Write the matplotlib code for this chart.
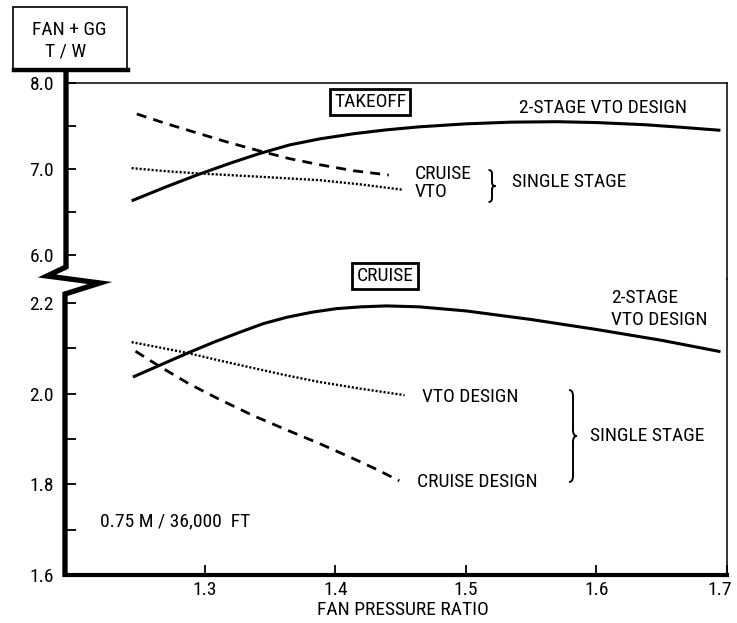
import matplotlib
matplotlib.use("Agg")
import matplotlib.pyplot as plt
from matplotlib import font_manager
from matplotlib.lines import Line2D
from matplotlib.patches import Rectangle, PathPatch
from matplotlib.path import Path
from matplotlib.ticker import MultipleLocator
from matplotlib.transforms import ScaledTranslation

# ---------------- data ----------------
x_ticks = [1.3, 1.4, 1.5, 1.6, 1.7]
x_tick_labels = ["1.3", "1.4", "1.5", "1.6", "1.7"]
top_yticks = [6.0, 7.0, 8.0]
top_ytick_labels = ["6.0", "7.0", "8.0"]
bot_yticks = [1.6, 1.8, 2.0, 2.2]
bot_ytick_labels = ["1.6", "1.8", "2.0", "2.2"]

# TAKEOFF
to_2stage_x = [1.244, 1.27, 1.294, 1.32, 1.342, 1.365, 1.388, 1.414, 1.439, 1.464, 1.50, 1.535,
               1.57, 1.60, 1.637, 1.665, 1.695]
to_2stage_y = [6.63, 6.79, 6.93, 7.07, 7.18, 7.28, 7.35, 7.41, 7.455, 7.49, 7.525, 7.545,
               7.55, 7.54, 7.515, 7.485, 7.45]
to_cruise_x = [1.248, 1.27, 1.294, 1.318, 1.342, 1.365, 1.388, 1.414, 1.441]
to_cruise_y = [7.64, 7.53, 7.42, 7.31, 7.21, 7.12, 7.05, 6.98, 6.93]
to_vto_x = [1.244, 1.27, 1.294, 1.342, 1.388, 1.42, 1.451]
to_vto_y = [7.01, 6.975, 6.95, 6.91, 6.87, 6.82, 6.76]

# CRUISE
cr_2stage_x = [1.245, 1.264, 1.287, 1.307, 1.327, 1.345, 1.363, 1.382, 1.401, 1.42, 1.439, 1.464,
               1.50, 1.55, 1.60, 1.65, 1.695]
cr_2stage_y = [2.037, 2.061, 2.090, 2.114, 2.136, 2.155, 2.169, 2.180, 2.188, 2.192, 2.194, 2.192,
               2.183, 2.164, 2.142, 2.118, 2.093]
cr_vto_x = [1.244, 1.264, 1.287, 1.312, 1.337, 1.362, 1.388, 1.42, 1.453]
cr_vto_y = [2.114, 2.103, 2.090, 2.073, 2.057, 2.041, 2.026, 2.011, 1.997]
cr_cruise_x = [1.247, 1.264, 1.288, 1.311, 1.337, 1.363, 1.388, 1.413, 1.431, 1.449]
cr_cruise_y = [2.094, 2.063, 2.022, 1.988, 1.952, 1.920, 1.890, 1.858, 1.834, 1.808]

# ---------------- fonts ----------------
avail = {f.name for f in font_manager.fontManager.ttflist}
FONT = "DejaVu Sans"
for cand in ["Liberation Sans Narrow", "DejaVu Sans Condensed", "Roboto Condensed", "Open Sans Condensed"]:
    if cand in avail:
        FONT = cand
        break
plt.rcParams["font.family"] = [FONT, "DejaVu Sans"]

W, H = 737, 623
fig = plt.figure(figsize=(W / 100, H / 100), dpi=100)


def fx(px):
    return px / W


def fy(py):
    return 1 - py / H


LEFT, RIGHT, TOP, SPLIT, BOTTOM = 65, 727, 83, 279, 575
ax_top = fig.add_axes([fx(LEFT), fy(SPLIT), fx(RIGHT) - fx(LEFT), fy(TOP) - fy(SPLIT)])
ax_bot = fig.add_axes([fx(LEFT), fy(BOTTOM), fx(RIGHT) - fx(LEFT), fy(SPLIT) - fy(BOTTOM)])

XMIN, XMAX = 1.193, 1.70
for ax in (ax_top, ax_bot):
    ax.set_xlim(XMIN, XMAX)
    ax.set_facecolor("none")
    ax.spines["right"].set_linewidth(1.1)
    ax.spines["left"].set_visible(False)
    ax.tick_params(axis="y", direction="in", length=8, width=1.3, pad=8, labelsize=14, which="both")
    ax.tick_params(axis="x", direction="in", length=7, width=1.3, pad=4, labelsize=14)

# top axes
ax_top.set_ylim(5.721, 8.0)
ax_top.spines["bottom"].set_visible(False)
ax_top.spines["top"].set_linewidth(1.1)
ax_top.set_yticks(top_yticks)
ax_top.set_yticklabels(top_ytick_labels)
ax_top.yaxis.set_minor_locator(MultipleLocator(0.5))
ax_top.set_xticks([])

# bottom axes
ax_bot.set_ylim(1.6, 2.2534)
ax_bot.spines["top"].set_visible(False)
ax_bot.spines["bottom"].set_linewidth(3.0)
ax_bot.set_yticks(bot_yticks)
ax_bot.set_yticklabels(bot_ytick_labels)
ax_bot.yaxis.set_minor_locator(MultipleLocator(0.1))
ax_bot.set_xticks(x_ticks)
ax_bot.set_xticklabels(x_tick_labels)
ax_bot.set_xlabel("FAN PRESSURE RATIO", fontsize=14)
ax_bot.xaxis.set_label_coords(0.51, -0.088)
last = ax_bot.get_xticklabels()[-1]
last.set_transform(last.get_transform() + ScaledTranslation(-7 / 100, 0, fig.dpi_scale_trans))

# curves
solid = dict(color="black", lw=2.2, solid_capstyle="butt", solid_joinstyle="round")
dashed = dict(color="black", lw=2.0, linestyle=(0, (3.6, 2.6)))
dotted = dict(color="black", lw=1.7, linestyle=(0, (0.9, 0.8)))

ax_top.plot(to_2stage_x, to_2stage_y, **solid)
ax_top.plot(to_cruise_x, to_cruise_y, **dashed)
ax_top.plot(to_vto_x, to_vto_y, **dotted)
ax_bot.plot(cr_2stage_x, cr_2stage_y, **solid)
ax_bot.plot(cr_vto_x, cr_vto_y, **dotted)
ax_bot.plot(cr_cruise_x, cr_cruise_y, **dashed)

# thick left spine with break zigzag
zx = [66, 66, 47, 100, 65, 65]
zy = [70, 267, 276, 283, 294, 577]
fig.add_artist(Line2D([fx(v) for v in zx], [fy(v) for v in zy], color="black", lw=3.8,
                      solid_joinstyle="miter", solid_capstyle="butt", transform=fig.transFigure))

# y-label box
fig.add_artist(Rectangle((fx(13), fy(70)), fx(127) - fx(13), fy(7) - fy(70), fc="white",
                         ec="black", lw=1.2, transform=fig.transFigure))
fig.add_artist(Line2D([fx(14), fx(128)], [fy(70), fy(70)], color="black", lw=3.2,
                      transform=fig.transFigure))
fig.text(fx(69), fy(30), "FAN + GG", ha="center", va="center", fontsize=14)
fig.text(fx(66), fy(52), "T / W", ha="center", va="center", fontsize=14)


def brace(xc, y0, y1, w):
    """right-facing curly brace between pixel rows y0 and y1, centred at column xc"""
    ym = (y0 + y1) / 2
    h = (y1 - y0)
    c = min(6, h * 0.12)
    xl, xr = xc - w / 2, xc + w / 2
    pts = [(xl, y0), (xc, y0), (xc, y0 + c),
           (xc, ym - c),
           (xc, ym), (xr, ym),
           (xc, ym), (xc, ym + c),
           (xc, y1 - c),
           (xc, y1), (xl, y1)]
    codes = [Path.MOVETO, Path.CURVE3, Path.CURVE3,
             Path.LINETO,
             Path.CURVE3, Path.CURVE3,
             Path.CURVE3, Path.CURVE3,
             Path.LINETO,
             Path.CURVE3, Path.CURVE3]
    p = Path([(fx(a), fy(b)) for a, b in pts], codes)
    fig.add_artist(PathPatch(p, fc="none", ec="black", lw=1.4, transform=fig.transFigure))


TS = 14
# TAKEOFF
fig.text(fx(370), fy(102), "TAKEOFF", ha="center", va="center", fontsize=TS,
         bbox=dict(boxstyle="square,pad=0.22", fc="white", ec="black", lw=2.0))
fig.text(fx(603), fy(108), "2-STAGE VTO DESIGN", ha="center", va="center", fontsize=TS)
fig.text(fx(415), fy(174), "CRUISE", ha="left", va="center", fontsize=TS)
fig.text(fx(415), fy(192), "VTO", ha="left", va="center", fontsize=TS)
brace(492, 170, 202, 7)
fig.text(fx(512), fy(182), "SINGLE STAGE", ha="left", va="center", fontsize=TS)

# CRUISE
fig.text(fx(385), fy(276), "CRUISE", ha="center", va="center", fontsize=TS,
         bbox=dict(boxstyle="square,pad=0.22", fc="white", ec="black", lw=2.0))
fig.text(fx(611), fy(298), "2-STAGE", ha="left", va="center", fontsize=TS)
fig.text(fx(611), fy(320), "VTO DESIGN", ha="left", va="center", fontsize=TS)
fig.text(fx(422), fy(397), "VTO DESIGN", ha="left", va="center", fontsize=TS)
fig.text(fx(417), fy(482), "CRUISE DESIGN", ha="left", va="center", fontsize=TS)
brace(573, 390, 482, 8)
fig.text(fx(590), fy(436), "SINGLE STAGE", ha="left", va="center", fontsize=TS)
fig.text(fx(100), fy(521), "0.75 M / 36,000  FT", ha="left", va="center", fontsize=TS)

fig.savefig("out.png", dpi=100, facecolor="white")
